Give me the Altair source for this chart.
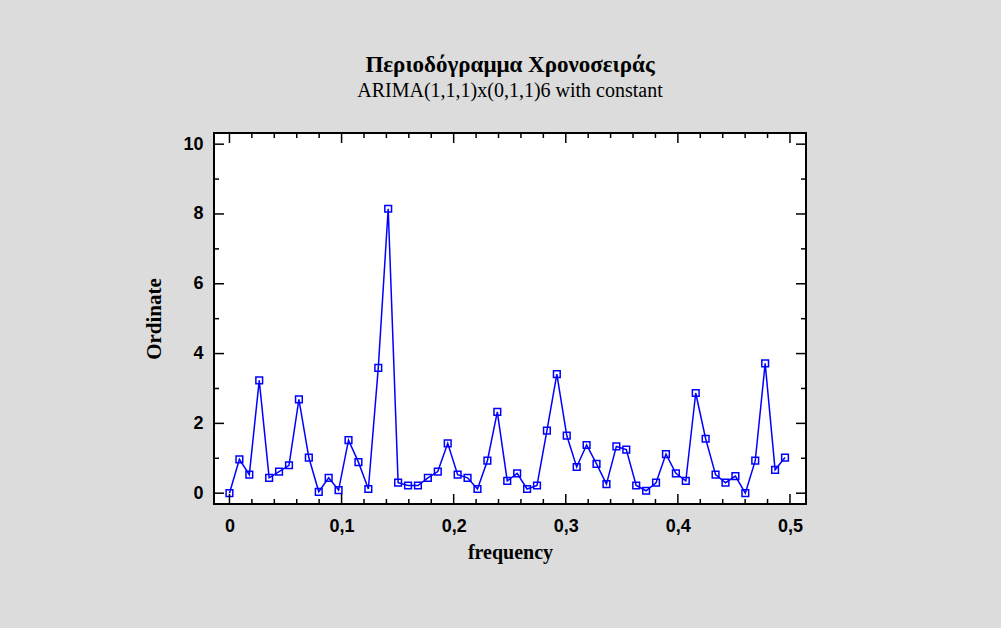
import altair as alt
import pandas as pd

# Periodogram ordinates at Fourier frequencies k/113
n_obs = 113
ordinate = [0.0, 0.97, 0.53, 3.23, 0.44, 0.62, 0.80, 2.69, 1.02, 0.04,
            0.44, 0.09, 1.52, 0.89, 0.12, 3.59, 8.15, 0.30, 0.22, 0.22,
            0.44, 0.62, 1.43, 0.53, 0.44, 0.12, 0.93, 2.33, 0.35, 0.57,
            0.12, 0.22, 1.79, 3.41, 1.65, 0.75, 1.38, 0.84, 0.26, 1.34,
            1.25, 0.22, 0.07, 0.30, 1.12, 0.57, 0.35, 2.87, 1.56, 0.53,
            0.30, 0.49, 0.0, 0.93, 3.72, 0.67, 1.02]
frequency = [k / n_obs for k in range(len(ordinate))]

x_major = [0, 0.1, 0.2, 0.3, 0.4, 0.5]
x_minor = [0.02, 0.04, 0.06, 0.08, 0.12, 0.14, 0.16, 0.18, 0.22, 0.24, 0.26, 0.28,
           0.32, 0.34, 0.36, 0.38, 0.42, 0.44, 0.46, 0.48]
y_major = [0, 2, 4, 6, 8, 10]
y_minor = [1, 3, 5, 7, 9]

W, H = 592, 371
BLUE = "#0000FF"

df = pd.DataFrame({"frequency": frequency, "ordinate": ordinate})

xs = alt.Scale(domain=[-0.0138, 0.5143], nice=False, zero=False)
ys = alt.Scale(domain=[-0.31, 10.32], nice=False, zero=False)

x_axis = alt.Axis(values=x_major, ticks=False, domain=False, grid=False,
                  labelExpr="datum.value == 0 ? '0' : replace(format(datum.value, '.1f'), '.', ',')",
                  labelFont="Liberation Sans", labelFontWeight="bold", labelFontSize=18,
                  labelColor="black", labelPadding=13,
                  title="frequency", titleFont="Liberation Serif", titleFontWeight="bold",
                  titleFontSize=20, titleColor="black", titlePadding=7)
y_axis = alt.Axis(values=y_major, ticks=False, domain=False, grid=False,
                  labelFont="Liberation Sans", labelFontWeight="bold", labelFontSize=18,
                  labelColor="black", labelPadding=11,
                  title="Ordinate", titleFont="Liberation Serif", titleFontWeight="bold",
                  titleFontSize=21, titleColor="black", titlePadding=18)

line = alt.Chart(df).mark_line(color=BLUE, strokeWidth=1.5).encode(
    x=alt.X("frequency:Q", scale=xs, axis=x_axis),
    y=alt.Y("ordinate:Q", scale=ys, axis=y_axis),
)
pts = alt.Chart(df).mark_point(shape="square", filled=False, color=BLUE,
                               size=45, strokeWidth=1.5, opacity=1).encode(
    x=alt.X("frequency:Q", scale=xs),
    y=alt.Y("ordinate:Q", scale=ys),
)

def xticks(vals, length):
    d = pd.DataFrame({"t": vals})
    bottom = alt.Chart(d).mark_rule(color="black", strokeWidth=1.5).encode(
        x=alt.X("t:Q", scale=xs), y=alt.value(H), y2=alt.value(H - length))
    top = alt.Chart(d).mark_rule(color="black", strokeWidth=1.5).encode(
        x=alt.X("t:Q", scale=xs), y=alt.value(0), y2=alt.value(length))
    return [bottom, top]

def yticks(vals, length):
    d = pd.DataFrame({"t": vals})
    left = alt.Chart(d).mark_rule(color="black", strokeWidth=1.5).encode(
        y=alt.Y("t:Q", scale=ys), x=alt.value(0), x2=alt.value(length))
    right = alt.Chart(d).mark_rule(color="black", strokeWidth=1.5).encode(
        y=alt.Y("t:Q", scale=ys), x=alt.value(W), x2=alt.value(W - length))
    return [left, right]

layers = [line, pts] + xticks(x_major, 10) + xticks(x_minor, 5) + yticks(y_major, 10) + yticks(y_minor, 5)

chart = alt.layer(*layers).properties(
    width=W, height=H,
    title=alt.Title(
        "Περιοδόγραμμα Χρονοσειράς",
        subtitle="ARIMA(1,1,1)x(0,1,1)6 with constant",
        font="Liberation Serif", fontSize=23, fontWeight="bold", color="black",
        subtitleFont="Liberation Serif", subtitleFontSize=20, subtitleColor="black",
        subtitlePadding=4, anchor="middle", offset=31,
    ),
    autosize=alt.AutoSizeParams(type="none"),
    padding={"left": 214, "top": 133, "right": 195, "bottom": 124},
    background="#DCDCDC",
).configure_view(
    stroke="black", strokeWidth=2, fill="white"
)

chart.save("out.html", embed_options={"renderer": "svg", "actions": False})
